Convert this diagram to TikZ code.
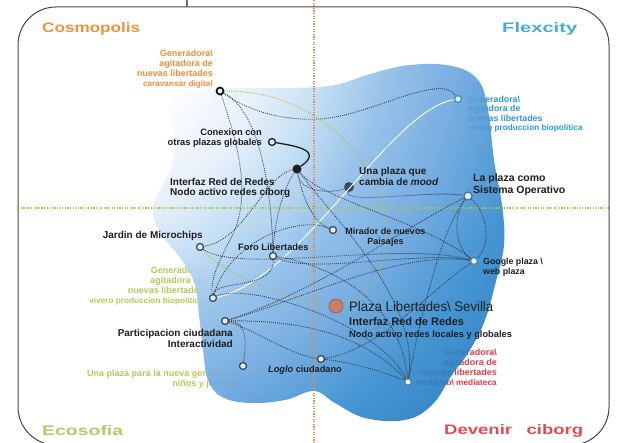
\documentclass[tikz,border=0pt]{standalone}
\usepackage{fontspec}
\setmainfont{Liberation Sans}
\usepackage{graphicx}
\definecolor{corange}{RGB}{240,140,55}
\definecolor{cblue}{RGB}{45,150,215}
\definecolor{cgreen}{RGB}{180,200,85}
\definecolor{cred}{RGB}{228,60,65}
\definecolor{ctext}{RGB}{30,30,35}
\definecolor{cline}{RGB}{50,55,65}
\definecolor{cframe}{RGB}{70,70,70}
\definecolor{gridorange}{RGB}{235,140,70}
\definecolor{gridgreen}{RGB}{175,195,70}
\definecolor{salmon}{RGB}{205,125,105}
\definecolor{slate}{RGB}{60,75,90}
\definecolor{slateblue}{RGB}{80,115,150}
\definecolor{grayblue}{RGB}{100,130,160}
\definecolor{gA}{RGB}{228,238,249}
\definecolor{gB}{RGB}{195,222,244}
\definecolor{gC}{RGB}{140,188,232}
\definecolor{gD}{RGB}{105,165,222}
\definecolor{gE}{RGB}{50,138,206}
\definecolor{gF}{RGB}{30,118,192}
\definecolor{ringfill}{RGB}{228,238,247}
\definecolor{tcosmo}{RGB}{240,145,60}
\definecolor{tflex}{RGB}{70,170,225}
\definecolor{teco}{RGB}{185,200,100}
\definecolor{tdev}{RGB}{225,75,80}
\pgfdeclareradialshading{blobglow}{\pgfpointorigin}{color(0bp)=(white); color(5.4bp)=(white); color(8.75bp)=(gA); color(10.85bp)=(gB); color(13.75bp)=(gC); color(16.65bp)=(gD); color(20bp)=(gE); color(23.35bp)=(gF); color(50bp)=(gF)}
\tikzset{
  conn/.style={draw=cline, line width=0.85pt, dash pattern=on 0.85pt off 1.15pt},
  solidconn/.style={draw=ctext, line width=1.3pt},
  gconn/.style={draw=gridgreen, line width=1pt, dash pattern=on 1pt off 1.3pt},
  ring/.style={circle, draw=#1, line width=1.3pt, fill=ringfill, minimum size=7pt, inner sep=0pt},
  ring/.default=slate,
  dotnode/.style={circle, fill=#1, minimum size=9pt, inner sep=0pt},
  gen/.style={inner sep=0pt, font=\bfseries\fontsize{9}{10}\selectfont},
  lbl/.style={inner sep=0pt, text=ctext},
  ttl/.style={inner sep=0pt, anchor=base west}
}
\begin{document}
\begin{tikzpicture}[x=1pt,y=-1pt]
\useasboundingbox (0,0) rectangle (625,443);
\clip (0,0) rectangle (625,443);

% coloured labels (behind the blob)
\node[gen, text=corange, align=right, anchor=north east] (lorange) at (213,49.6)
  {Generadora\textbackslash\\agitadora de\\nuevas libertades\\{\fontsize{8.2}{10}\selectfont caravansar digital}};
\node[gen, text=cblue, align=left, anchor=north west, font=\bfseries\fontsize{8.8}{9.4}\selectfont] (lblue) at (468,95.8)
  {Generadora\textbackslash\\agitadora de\\nuevas libertades\\{\fontsize{8.2}{9.4}\selectfont vivero produccion biopolitica}};
\node[gen, text=cgreen, align=right, anchor=north east] (lgreen) at (204,266.6)
  {Generadora\textbackslash\\agitadora de\\nuevas libertades\\{\fontsize{8.2}{10}\selectfont vivero produccion biopolitica}};
\node[gen, text=cred, align=right, anchor=north east] (lred) at (497,348.6)
  {Generadora\textbackslash\\agitadora de\\nuevas libertades\\{\fontsize{8.3}{10}\selectfont medialab\textbackslash{} mediateca}};
\node[gen, text=cgreen, align=right, anchor=north east] (lninos) at (240,369.6)
  {Una plaza para la nueva generacion\\niños y jovenes};

% blob
\begin{scope}
\clip plot[smooth cycle, tension=0.65] coordinates {
  (167,97) (200,90) (240,88) (290,88) (335,85) (370,74) (410,65) (452,66) (478,80)
  (488,110) (494,160) (502,205) (504,245) (495,285) (485,320) (470,350) (452,375)
  (432,405) (405,420) (365,418) (335,403) (314,391) (285,400) (250,403) (222,397)
  (208,380) (203,350) (199,315) (195,285) (183,262) (160,232) (153,210) (160,190)
  (172,165) (174,135) (170,112)};
\shade[shading=blobglow, opacity=0.9] (60,20) circle (600);
\end{scope}

% quadrant axes
\draw[gridorange, line width=1.3pt, dash pattern=on 1.3pt off 1.3pt] (314,0) -- (314,443);
\draw[gridgreen, line width=1.3pt, dash pattern=on 1.3pt off 1.3pt] (18,208) -- (609,208);

% frame
\draw[cframe, line width=1pt, rounded corners=38pt] (18,7) rectangle (609,445);
\draw[cframe!80, line width=1.5pt] (187,0) -- (187,7);

% titles
\node[ttl, text=tcosmo] (tcos) at (42,33) {\resizebox{98pt}{10pt}{\bfseries Cosmopolis}};
\node[ttl, text=tflex] (tflx) at (502,33) {\resizebox{75pt}{10pt}{\bfseries Flexcity}};
\node[ttl, text=teco] (teco) at (42,436) {\resizebox{81pt}{10pt}{\bfseries Ecosofia}};
\node[ttl, text=tdev] (tdev) at (444,435) {\resizebox{139pt}{10pt}{\bfseries Devenir\hspace{0.78em}ciborg}};

% nodes
\node[ring=black, line width=1.6pt] (A) at (220,91) {};
\node[ring=cblue] (B) at (458,99) {};
\node[ring=ctext] (C) at (272,142) {};
\node[dotnode=ctext] (D) at (297,169) {};
\node[dotnode=slate, minimum size=10pt] (E) at (349,187) {};
\node[ring=slateblue, minimum size=8pt] (F) at (468,196) {};
\node[ring] (G) at (333,230) {};
\node[ring] (H) at (200,247) {};
\node[ring] (I) at (273,256) {};
\node[ring=grayblue] (J) at (474,261) {};
\node[ring] (K) at (213,298) {};
\node[circle, fill=salmon, draw=salmon!70!black, line width=0.6pt, minimum size=14pt, inner sep=0pt] (L) at (336,306) {};
\node[ring] (M) at (225,321) {};
\node[ring] (N) at (243,366) {};
\node[ring] (O) at (321,359) {};
\node[ring=slateblue] (P) at (408,382) {};

% white and green traces
\draw[white, line width=0.9pt] (K) .. controls (300,280) and (390,110) .. (B);
\draw[gconn] (A) .. controls (330,90) and (395,180) .. (385,250) .. controls (380,280) and (360,300) .. (L);
\draw[gconn] (H) .. controls (225,275) and (290,300) .. (L);

% connectors
\draw[conn] (A) .. controls (250,112) and (285,121) .. (320,119) .. controls (370,116) and (440,72) .. (B);
\draw[conn] (A) .. controls (262,112) and (272,200) .. (I);
\draw[conn] (A) .. controls (240,150) and (252,200) .. (230,240) .. controls (218,262) and (210,282) .. (K);
\draw[solidconn] (C) .. controls (295,146) and (324,150) .. (D);
\draw[conn] (D) .. controls (300,192) and (330,194) .. (E);
\draw[conn] (E) .. controls (345,205) and (430,190) .. (F);
\draw[conn] (D) .. controls (302,195) and (312,222) .. (G);
\draw[conn] (D) .. controls (322,200) and (425,222) .. (J);
\draw[conn] (D) .. controls (265,175) and (245,240) .. (H);
\draw[conn] (D) .. controls (282,190) and (274,225) .. (I);
\draw[conn] (D) .. controls (335,220) and (420,300) .. (P);
\draw[conn] (F) .. controls (452,215) and (455,248) .. (J);
\draw[conn] (F) .. controls (487,212) and (492,245) .. (J);
\draw[conn] (F) .. controls (440,230) and (418,330) .. (P);
\draw[conn] (H) .. controls (240,275) and (400,240) .. (J);
\draw[conn] (I) .. controls (310,275) and (420,250) .. (J);
\draw[conn] (I) .. controls (330,265) and (400,300) .. (P);
\draw[conn] (K) .. controls (215,280) and (275,290) .. (I);
\draw[conn] (K) .. controls (245,282) and (375,320) .. (P);
\draw[conn] (G) .. controls (300,215) and (230,240) .. (K);
\draw[conn] (M) .. controls (250,322) and (245,350) .. (N);
\draw[conn] (M) .. controls (300,300) and (400,250) .. (J);
\draw[conn] (M) .. controls (320,290) and (400,230) .. (F);
\draw[conn] (M) .. controls (290,320) and (360,330) .. (P);
\draw[conn] (M) .. controls (255,330) and (290,355) .. (O);
\draw[conn] (O) .. controls (350,362) and (385,372) .. (P);
\draw[conn] (O) .. controls (380,350) and (430,290) .. (J);

% black labels
\node[lbl, align=right, anchor=north east, font=\bfseries\fontsize{9.3}{10}\selectfont] (lcon) at (262,128.6) {Conexion con\\otras plazas globales};
\node[lbl, align=left, anchor=north west, font=\bfseries\fontsize{10}{10}\selectfont] (lint) at (170,178.3) {Interfaz Red de Redes\\Nodo activo redes ciborg};
\node[lbl, align=left, anchor=north west, font=\bfseries\fontsize{10}{11}\selectfont] (lmood) at (359,167.3) {Una plaza que\\cambia de \textit{mood}};
\node[lbl, align=left, anchor=north west, font=\bfseries\fontsize{10.5}{12}\selectfont] (lso) at (473,173.2) {La plaza como\\Sistema Operativo};
\node[lbl, anchor=base east, font=\bfseries\fontsize{10}{12}\selectfont] (ljar) at (203,238.6) {Jardin de Microchips};
\node[lbl, anchor=base west, font=\bfseries\fontsize{9.3}{11}\selectfont] (lforo) at (238,250.3) {Foro Libertades};
\node[lbl, align=center, anchor=north, font=\bfseries\fontsize{9}{10}\selectfont] (lmir) at (385.5,227.7) {Mirador de nuevos\\Paisajes};
\node[lbl, align=left, anchor=north west, font=\bfseries\fontsize{8.8}{10}\selectfont] (lgoo) at (483,257.8) {Google plaza \textbackslash\\web plaza};
\node[lbl, anchor=base west] (lplaza) at (349,312) {\resizebox{144pt}{10pt}{Plaza Libertades\textbackslash{} Sevilla}};
\node[lbl, align=left, anchor=north west, font=\bfseries\fontsize{11}{12}\selectfont] (lintb) at (349,317) {Interfaz Red de Redes\\{\fontsize{9.3}{12}\selectfont Nodo activo redes locales y globales}};
\node[lbl, align=right, anchor=north east, font=\bfseries\fontsize{10}{11}\selectfont] (lpar) at (233,329.3) {Participacion ciudadana\\Interactividad};
\node[lbl, anchor=base west, font=\bfseries\fontsize{9.2}{11}\selectfont] (llog) at (268,372.3) {\textit{Loglo} ciudadano};
\end{tikzpicture}
\end{document}
